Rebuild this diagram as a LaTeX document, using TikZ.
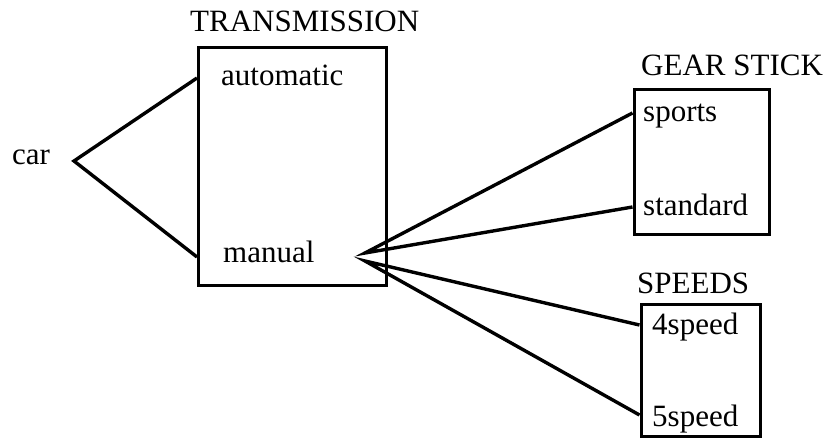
\documentclass[tikz,border=0pt]{standalone}
\usepackage{fontspec}
\setmainfont{Liberation Serif}
\begin{document}
\begin{tikzpicture}[x=1pt, y=-1pt, line join=miter,
  frame/.style={draw, line width=3pt, inner sep=0pt},
  link/.style={line width=3.4pt},
  lbl/.style={anchor=base west, inner sep=0pt, font=\fontsize{31}{37}\selectfont}]
\useasboundingbox (0,0) rectangle (823,438);
\clip (0,0) rectangle (823,438);

% boxes
\node[frame, minimum width=188pt, minimum height=238pt] (trans) at (292.5,166.5) {};
\node[frame, minimum width=135pt, minimum height=145pt] (gear) at (701.5,162.5) {};
\node[frame, minimum width=119pt, minimum height=131.5pt] (speeds) at (700.5,370.75) {};

% titles
\node[lbl] (transT) at (190,32) {TRANSMISSION};
\node[lbl] (gearT) at (641,76) {GEAR STICK};
\node[lbl] (speedsT) at (637,294) {SPEEDS};

% values
\node[lbl] (car) at (12,165) {car};
\node[lbl] (auto) at (221,86) {automatic};
\node[lbl] (manual) at (223,263) {manual};
\node[lbl] (sports) at (643,122) {sports};
\node[lbl] (standard) at (643,216) {standard};
\node[lbl] (four) at (652,335) {4speed};
\node[lbl] (five) at (652,427) {5speed};

% connector ends
\coordinate (carpt) at (74,161);
\coordinate (autoIn) at (trans.west |- 0,78);
\coordinate (manIn) at (trans.west |- 0,257);
\coordinate (manUp) at (365,253);
\coordinate (manLo) at (365,261);
\coordinate (sportsIn) at (gear.west |- 0,113);
\coordinate (standardIn) at (gear.west |- 0,207);
\coordinate (fourIn) at (speeds.west |- 0,325);
\coordinate (fiveIn) at (speeds.west |- 0,415);

% connectors
\draw[link] (autoIn) -- (carpt) -- (manIn);
\draw[link] (sportsIn) -- (manUp) -- (standardIn);
\draw[link] (fourIn) -- (manLo) -- (fiveIn);
\end{tikzpicture}
\end{document}
